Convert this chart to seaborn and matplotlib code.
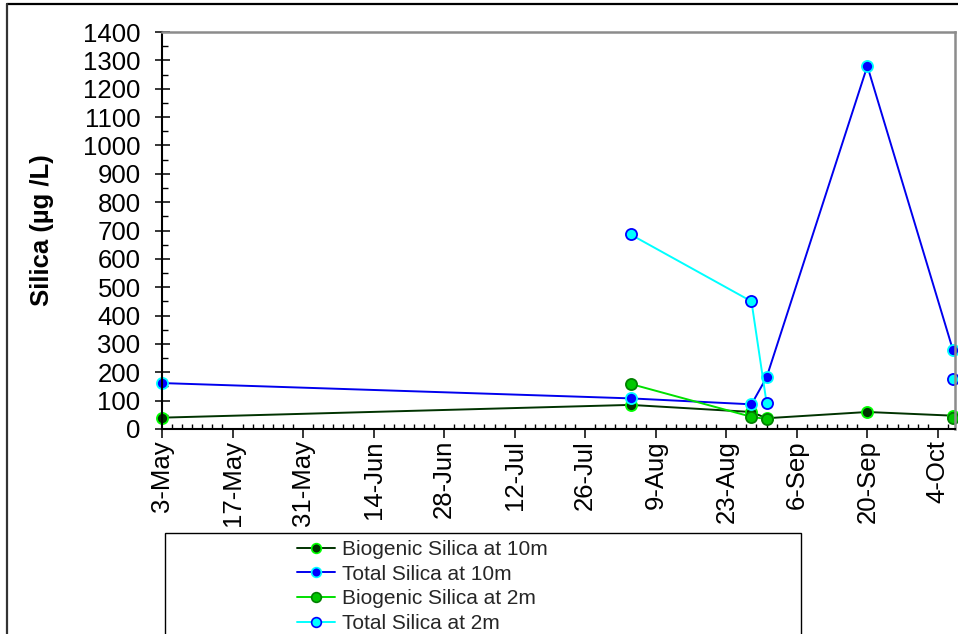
import numpy as np
import pandas as pd
import matplotlib
matplotlib.use("Agg")
import matplotlib.pyplot as plt
import matplotlib.dates as mdates
from matplotlib.lines import Line2D
from matplotlib.patches import Rectangle
from matplotlib.ticker import MultipleLocator, FixedLocator
import seaborn as sns

# Sampling dates and silica concentrations (µg/L)
sample_dates = ["2010-05-03", "2010-08-04", "2010-08-28", "2010-08-31", "2010-09-20", "2010-10-07"]
biogenic_10m = [40, 85, 60, 38, 60, 47]
total_10m = [162, 108, 87, 182, 1280, 278]
biogenic_2m = [np.nan, 159, 43, 35, np.nan, 38]
total_2m = [np.nan, 686, 450, 92, np.nan, 175]

series_names = ["Biogenic Silica at 10m", "Total Silica at 10m",
                "Biogenic Silica at 2m", "Total Silica at 2m"]
series_values = [biogenic_10m, total_10m, biogenic_2m, total_2m]

# Axis tick labels (every two weeks from 3 May)
tick_labels = ["3-May", "17-May", "31-May", "14-Jun", "28-Jun", "12-Jul",
               "26-Jul", "9-Aug", "23-Aug", "6-Sep", "20-Sep", "4-Oct"]

line_colors = ["#003300", "#0000ee", "#00e000", "#00ffff"]
face_colors = ["#003300", "#0000ff", "#00c800", "#00ffff"]
edge_colors = ["#00ff00", "#00ffff", "#008000", "#0000ff"]

# Long-form table; a new segment starts after every missing sample so lines break there
rows = []
for name, vals in zip(series_names, series_values):
    seg = 0
    for d, v in zip(sample_dates, vals):
        if np.isnan(v):
            seg += 1
            continue
        rows.append({"series": name, "date": pd.Timestamp(d), "value": v, "segment": seg})
df = pd.DataFrame(rows)

sns.set_theme(style="white")
plt.rcParams["font.family"] = ["Liberation Sans", "DejaVu Sans"]

W, H = 958, 634
fig = plt.figure(figsize=(W / 100, H / 100), dpi=100)
ax_left, ax_right, ax_top, ax_bottom = 162, 955, 32, 429
ax = fig.add_axes([ax_left / W, 1 - ax_bottom / H,
                   (ax_right - ax_left) / W, (ax_bottom - ax_top) / H])

handles = []
for name, lc, fc, ec in zip(series_names, line_colors, face_colors, edge_colors):
    sub = df[df["series"] == name]
    sns.lineplot(data=sub, x="date", y="value", units="segment", estimator=None,
                 color=lc, linewidth=1.4, marker="o", markersize=8,
                 markerfacecolor=fc, markeredgecolor=ec, markeredgewidth=1.3,
                 clip_on=False, legend=False, ax=ax)
    handles.append(Line2D([], [], color=lc, linewidth=1.4, marker="o", markersize=7,
                          markerfacecolor=fc, markeredgecolor=ec, markeredgewidth=1.2))

start = mdates.date2num(pd.Timestamp("2010-05-03"))
major_ticks = [start + 14 * i for i in range(len(tick_labels))]
minor_ticks = [start + 2 * i for i in range(80)]
ax.set_xlim(start, start + 157.4)
ax.xaxis.set_major_locator(FixedLocator(major_ticks))
ax.xaxis.set_minor_locator(FixedLocator(minor_ticks))
ax.set_xticklabels(tick_labels, rotation=90, va="top", ha="center")

ax.set_ylim(0, 1400)
ax.yaxis.set_major_locator(MultipleLocator(100))
ax.yaxis.set_minor_locator(MultipleLocator(50))

ax.tick_params(axis="x", which="major", direction="out", length=6.5, width=1.1,
               color="black", pad=1.5, labelsize=18.5, labelcolor="black", bottom=True)
ax.tick_params(axis="x", which="minor", direction="in", length=3.6, width=1.0,
               color="black", bottom=True)
ax.tick_params(axis="y", which="major", direction="inout", length=10.8, width=1.1,
               color="black", pad=10, labelsize=18.5, labelcolor="black", left=True)
ax.tick_params(axis="y", which="minor", direction="in", length=4.3, width=1.0,
               color="black", left=True)

ax.set_xlabel("")
ax.set_ylabel("Silica (µg /L)", fontsize=18.5, fontweight="bold", color="black")
ax.yaxis.set_label_coords(-0.136, 0.5)

for side in ("left", "bottom"):
    ax.spines[side].set_color("black")
    ax.spines[side].set_linewidth(1.5)
for side in ("top", "right"):
    ax.spines[side].set_color("#8c8c8c")
    ax.spines[side].set_linewidth(1.8)
ax.grid(False)

# Outer chart border (top and left edges)
fig.add_artist(Line2D([7 / W, 1.0], [1 - 4 / H, 1 - 4 / H], transform=fig.transFigure,
                      color="black", linewidth=1.6))
fig.add_artist(Line2D([7 / W, 7 / W], [0.0, 1 - 4 / H], transform=fig.transFigure,
                      color="#333333", linewidth=1.6))

# Legend box below the plot
fig.add_artist(Rectangle((165 / W, -0.1), 636 / W, 0.1 + (1 - 533 / H),
                         transform=fig.transFigure, fill=False,
                         edgecolor="black", linewidth=1.0))
fig.legend(handles, series_names, loc="upper left",
           bbox_to_anchor=(297 / W, 1 - 540 / H), bbox_transform=fig.transFigure,
           frameon=False, fontsize=15, handlelength=1.8, handletextpad=0.35,
           labelspacing=0.27, borderpad=0, borderaxespad=0)

fig.savefig("out.png", dpi=100)
